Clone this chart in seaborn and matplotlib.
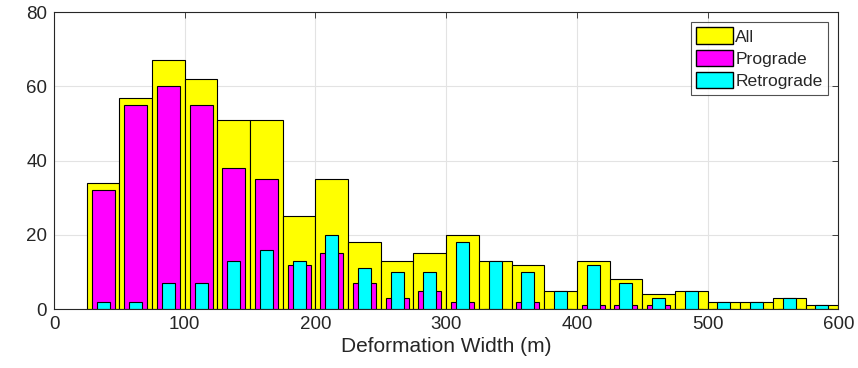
import numpy as np
import pandas as pd
import matplotlib
matplotlib.use('Agg')
import matplotlib.pyplot as plt
import seaborn as sns
from matplotlib.patches import Patch

# bin centres (m), bins 25 m wide from 25 to 600
bin_centers = [37.5, 62.5, 87.5, 112.5, 137.5, 162.5, 187.5, 212.5, 237.5, 262.5,
               287.5, 312.5, 337.5, 362.5, 387.5, 412.5, 437.5, 462.5, 487.5, 512.5,
               537.5, 562.5, 587.5]
count_all = [34, 57, 67, 62, 51, 51, 25, 35, 18, 13, 15, 20, 13, 12, 5, 13, 8, 4, 5, 2, 2, 3, 1]
count_pro = [32, 55, 60, 55, 38, 35, 12, 15, 7, 3, 5, 2, 0, 2, 0, 1, 1, 1, 0, 0, 0, 0, 0]
count_retro = [2, 2, 7, 7, 13, 16, 13, 20, 11, 10, 10, 18, 13, 10, 5, 12, 7, 3, 5, 2, 2, 3, 1]

df = pd.DataFrame({'center': bin_centers, 'all': count_all,
                   'pro': count_pro, 'retro': count_retro})

sns.set_style('white')
plt.rcParams['font.family'] = ['Liberation Sans', 'DejaVu Sans']

fig = plt.figure(figsize=(8.58, 3.68), dpi=100)
ax = fig.add_axes([0.063, 0.160, 0.914, 0.807])

edge = dict(edgecolor='black', linewidth=0.8)
sns.barplot(data=df, x='center', y='all', native_scale=True, width=1.0,
            color='#ffff00', saturation=1, ax=ax, **edge)
sns.barplot(data=df, x='center', y='pro', native_scale=True, width=0.7,
            color='#ff00ff', saturation=1, ax=ax, **edge)
sns.barplot(data=df, x='center', y='retro', native_scale=True, width=0.4,
            color='#00ffff', saturation=1, ax=ax, **edge)

ax.set_xlim(0, 600)
ax.set_ylim(0, 80)
ax.set_xticks(np.arange(0, 601, 100))
ax.set_yticks(np.arange(0, 81, 20))
ax.set_xlabel('Deformation Width (m)', fontsize=15, color='#262626', labelpad=3)
ax.set_ylabel('')
ax.grid(True, color='#e3e3e3', linewidth=0.8)
ax.set_axisbelow(True)
ax.tick_params(direction='in', length=4, width=0.6, labelsize=13.5, pad=5,
               labelcolor='#262626', top=True, right=True, color='#262626')
for sp in ax.spines.values():
    sp.set_color('#262626')
    sp.set_linewidth(0.8)

handles = [Patch(facecolor='#ffff00', edgecolor='black', label='All'),
           Patch(facecolor='#ff00ff', edgecolor='black', label='Prograde'),
           Patch(facecolor='#00ffff', edgecolor='black', label='Retrograde')]
leg = ax.legend(handles=handles, loc='upper right', bbox_to_anchor=(0.987, 0.966),
                fontsize=12.6, frameon=True, fancybox=False, handlelength=2.1,
                handleheight=1.05, handletextpad=0.15, labelspacing=0.3,
                borderpad=0.3, borderaxespad=0)
leg.get_frame().set_edgecolor('#262626')
leg.get_frame().set_linewidth(0.8)

fig.savefig('out.png', dpi=100)
